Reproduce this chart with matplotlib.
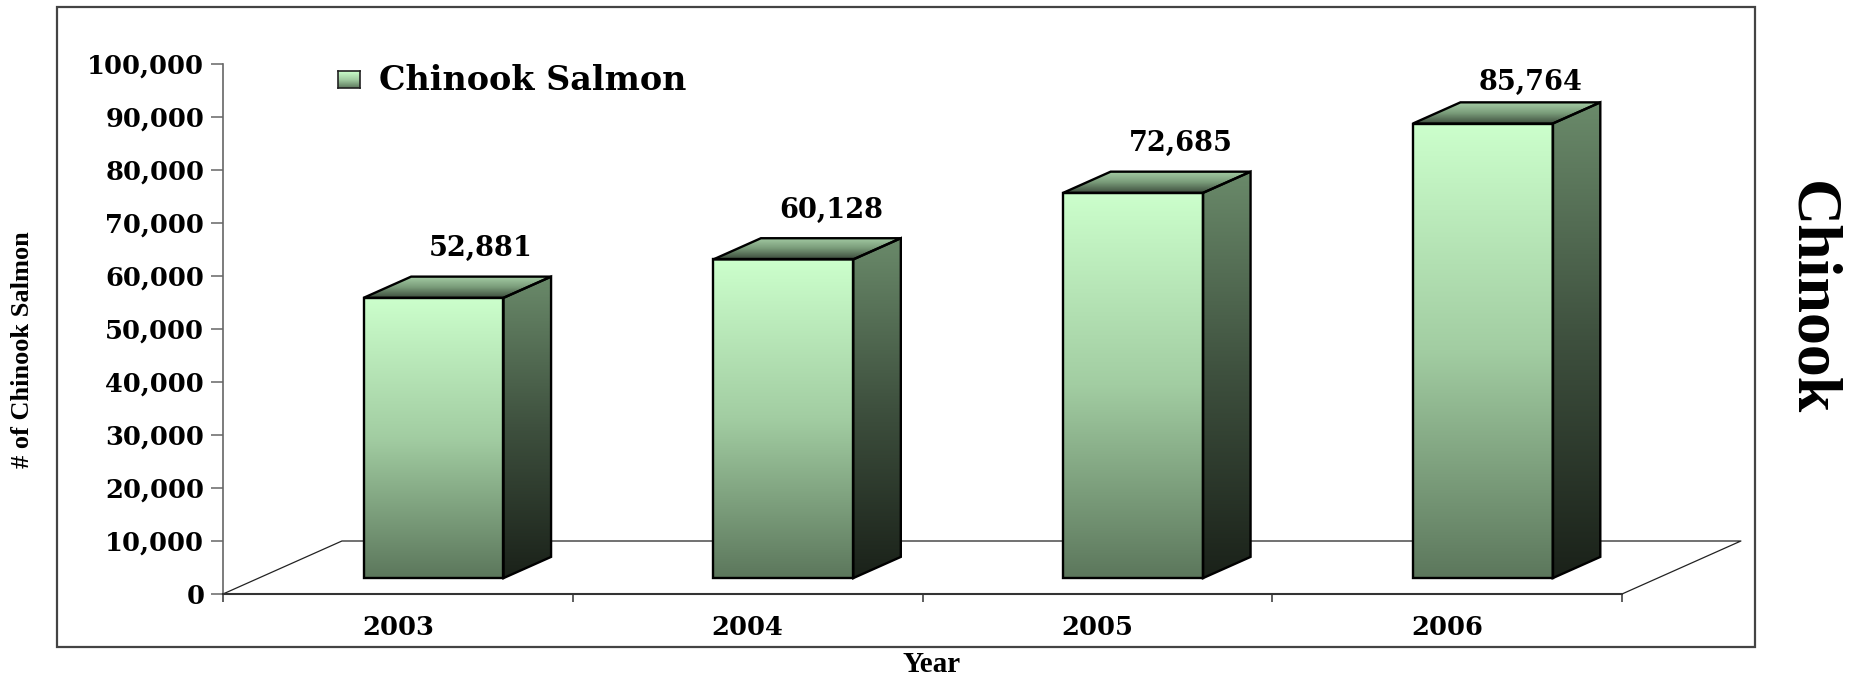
import numpy as np
import matplotlib
matplotlib.use('Agg')
import matplotlib.pyplot as plt
from matplotlib.patches import Polygon, Rectangle
from matplotlib.colors import LinearSegmentedColormap
from matplotlib.ticker import FuncFormatter

# chinook counts per year
years = ['2003', '2004', '2005', '2006']
chinook = [52881, 60128, 72685, 85764]
y_ticks = list(range(0, 100001, 10000))

plt.rcParams['font.family'] = ['DejaVu Serif']
plt.rcParams['font.weight'] = 'bold'

W, H = 1862, 679
fig = plt.figure(figsize=(W / 100, H / 100), dpi=100)
ax = fig.add_axes([223 / W, 85 / H, 1399 / W, 530 / H])

# fake 3d floor: depth in category units (x) and value units (y)
depth_dx = 0.34
depth_dy = 10000
bar_w = 0.4
front, back = 0.3, 0.7

front_cmap = LinearSegmentedColormap.from_list('front', ['#5c775c', '#a2cda2', '#ccffcc'])
side_cmap = LinearSegmentedColormap.from_list('side', ['#1a2119', '#3e503e', '#6a8a6a'])
top_cmap = LinearSegmentedColormap.from_list('top', ['#3c4c3c', '#7a9c7a', '#a6cfa6'])
ramp = np.linspace(0, 1, 256).reshape(-1, 1)


def shaded_face(pts, cmap):
    xs = [p[0] for p in pts]
    ys = [p[1] for p in pts]
    img = ax.imshow(ramp, cmap=cmap, origin='lower', aspect='auto', interpolation='bilinear',
                    extent=(min(xs), max(xs), min(ys), max(ys)), zorder=3)
    face = Polygon(pts, closed=True, facecolor='none', edgecolor='black', lw=1.7,
                   joinstyle='miter', zorder=4)
    ax.add_patch(face)
    img.set_clip_path(face)


ddx = (back - front) * depth_dx
ddy = (back - front) * depth_dy
for i, v in enumerate(chinook):
    x0 = i - bar_w / 2 + front * depth_dx
    x1 = x0 + bar_w
    yb = front * depth_dy
    yt = v + front * depth_dy
    shaded_face([(x0, yb), (x1, yb), (x1, yt), (x0, yt)], front_cmap)
    shaded_face([(x1, yb), (x1 + ddx, yb + ddy), (x1 + ddx, yt + ddy), (x1, yt)], side_cmap)
    shaded_face([(x0, yt), (x1, yt), (x1 + ddx, yt + ddy), (x0 + ddx, yt + ddy)], top_cmap)
    # keep the top label inside the plot area
    off = 20 if v < 80000 else 14
    ax.annotate(f'{v:,}', xy=((x0 + x1) / 2 + ddx, yt + ddy), xytext=(0, off),
                textcoords='offset points', ha='center', va='center', fontsize=19.5)

# floor outline
x_lo, x_hi = -0.5, len(years) - 0.5
floor_x = [x_lo, x_lo + depth_dx, x_hi + depth_dx, x_hi]
floor_y = [0, depth_dy, depth_dy, 0]
ax.plot(floor_x, floor_y, color='#222222', lw=0.9, clip_on=False, zorder=1)

ax.set_xlim(x_lo, x_hi)
ax.set_ylim(0, 100000)
ax.patch.set_visible(False)
for s in ['top', 'right']:
    ax.spines[s].set_visible(False)
ax.spines['left'].set_color('#666666')
ax.spines['left'].set_linewidth(1.2)
ax.spines['bottom'].set_color('#333333')
ax.spines['bottom'].set_linewidth(1.5)

ax.set_yticks(y_ticks)
ax.yaxis.set_major_formatter(FuncFormatter(lambda v, p: f'{int(v):,}'))
ax.tick_params(axis='y', length=9, width=1.1, pad=4.5, color='#666666', labelsize=18.5)

ax.set_xticks(np.arange(len(years) + 1) - 0.5)
ax.set_xticklabels([])
ax.set_xticks(range(len(years)), minor=True)
ax.set_xticklabels(years, minor=True)
ax.tick_params(axis='x', which='major', length=6, width=1.1, color='#333333')
ax.tick_params(axis='x', which='minor', length=0, pad=15, labelsize=18.5)

# legend key
key = fig.add_axes([338 / W, 1 - 88 / H, 22 / W, 17 / H])
key.imshow(ramp, cmap=front_cmap, origin='lower', aspect='auto')
key.set_xticks([])
key.set_yticks([])
for s in key.spines.values():
    s.set_color('#222222')
    s.set_linewidth(1.2)
fig.text(379 / W, 1 - 80 / H, 'Chinook Salmon', ha='left', va='center', fontsize=24)

# axis titles and side title
fig.text(23 / W, 1 - 350 / H, '# of Chinook Salmon', rotation=90, ha='center', va='center',
         fontsize=19, family='Liberation Serif')
fig.text(932 / W, 1 - 664 / H, 'Year', ha='center', va='center', fontsize=21,
         family='Liberation Serif')
fig.text(1810 / W, 1 - 298 / H, 'Chinook', rotation=-90, ha='center', va='center',
         fontsize=46, family='Liberation Serif')

# outer frame
fig.add_artist(Rectangle((57 / W, 1 - 647 / H), (1755 - 57) / W, (647 - 7) / H,
                         transform=fig.transFigure, fill=False, ec='#444444', lw=1.6))

fig.savefig('out.png', dpi=100)
